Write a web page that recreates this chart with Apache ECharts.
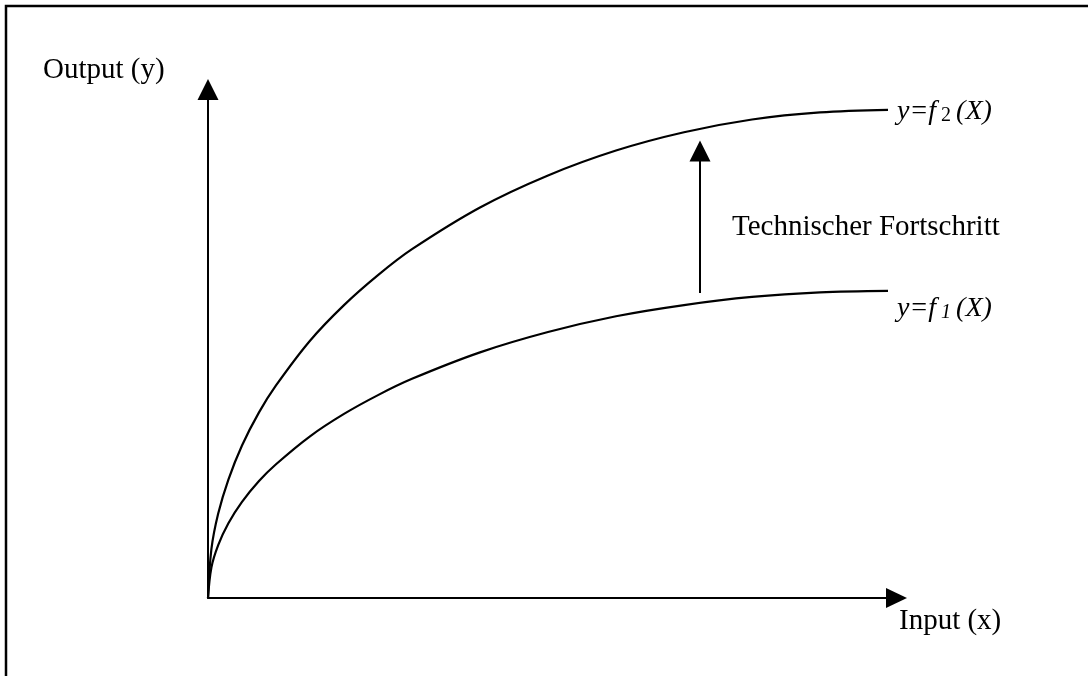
<!DOCTYPE html>
<html>
<head>
<meta charset="utf-8">
<script src="https://cdn.jsdelivr.net/npm/echarts@6/dist/echarts.min.js"></script>
<style>
  html, body { margin: 0; padding: 0; background: #fff; }
  #echBox { width: 1088px; height: 676px; }
</style>
</head>
<body>
<div id="echBox"></div>
<script>
// input values along the x axis
var inputX = [0, 0.05, 0.15, 0.3, 0.5, 0.75, 1, 1.5, 2, 2.5, 3, 4, 5, 6, 7, 8, 9, 10]
// output of the upper curve y=f2(X)
var outputF2 = [0, 0.96, 1.66, 2.33, 3.00, 3.65, 4.18, 5.06, 5.76, 6.35, 6.86, 7.68, 8.31, 8.80, 9.16, 9.41, 9.55, 9.6]
// output of the lower curve y=f1(X)
var outputF1 = [0, 0.60, 1.04, 1.47, 1.89, 2.30, 2.63, 3.18, 3.62, 3.99, 4.31, 4.83, 5.23, 5.54, 5.76, 5.92, 6.01, 6.04]
// the shift arrow: x position, from y, to y
var shiftX = 7.235
var shiftFrom = 6.0
var shiftTo = 8.79

var serif = "'Liberation Serif', 'Times New Roman', serif"

function pairs (xs, ys) {
  return xs.map(function (x, i) { return [x, ys[i]] })
}

var myChart = echarts.init(document.getElementById('echBox'))

var option = {
  backgroundColor: '#fff',
  animation: false,
  grid: {
    left: 208,
    right: 191.5,
    top: 89.5,
    bottom: 78
  },
  xAxis: {
    type: 'value',
    min: 0,
    max: 10.125,
    axisLine: {
      show: true,
      symbol: ['none', 'triangle'],
      symbolSize: [20, 21],
      lineStyle: { color: '#000', width: 2 }
    },
    axisTick: { show: false },
    axisLabel: { show: false },
    splitLine: { show: false }
  },
  yAxis: {
    type: 'value',
    min: 0,
    max: 10,
    axisLine: {
      show: true,
      symbol: ['none', 'triangle'],
      symbolSize: [21, 21],
      lineStyle: { color: '#000', width: 2 }
    },
    axisTick: { show: false },
    axisLabel: { show: false },
    splitLine: { show: false }
  },
  series: [
    {
      name: 'f2',
      type: 'line',
      data: pairs(inputX, outputF2),
      showSymbol: false,
      smooth: 0.35,
      silent: true,
      lineStyle: { color: '#000', width: 2.2 }
    },
    {
      name: 'f1',
      type: 'line',
      data: pairs(inputX, outputF1),
      showSymbol: false,
      smooth: 0.35,
      silent: true,
      lineStyle: { color: '#000', width: 2.2 },
      markLine: {
        silent: true,
        symbol: ['none', 'triangle'],
        symbolSize: 21,
        label: { show: false },
        lineStyle: { color: '#000', width: 2, type: 'solid' },
        data: [
          [{ coord: [shiftX, shiftFrom] }, { coord: [shiftX, shiftTo] }]
        ]
      }
    }
  ],
  graphic: [
    {
      type: 'rect',
      shape: { x: 6, y: 6, width: 1200, height: 800 },
      style: { fill: 'none', stroke: '#000', lineWidth: 2.5 },
      silent: true
    },
    {
      type: 'text',
      x: 43,
      y: 70,
      style: { text: 'Output (y)', font: '29px ' + serif, fill: '#000', textVerticalAlign: 'middle' }
    },
    {
      type: 'text',
      x: 899,
      y: 621,
      style: { text: 'Input (x)', font: '29px ' + serif, fill: '#000', textVerticalAlign: 'middle' }
    },
    {
      type: 'text',
      x: 732,
      y: 227,
      style: { text: 'Technischer Fortschritt', font: '29px ' + serif, fill: '#000', textVerticalAlign: 'middle' }
    },
    {
      type: 'text',
      x: 897,
      y: 112,
      style: {
        text: '{i|y=f}{s| 2 }{i|(X)}',
        textVerticalAlign: 'middle',
        rich: {
          i: { fontFamily: serif, fontSize: 28, fontStyle: 'italic', fill: '#000' },
          s: { fontFamily: serif, fontSize: 20, fill: '#000', padding: [8, 0, 0, 0] }
        }
      }
    },
    {
      type: 'text',
      x: 897,
      y: 309,
      style: {
        text: '{i|y=f}{s| 1 }{i|(X)}',
        textVerticalAlign: 'middle',
        rich: {
          i: { fontFamily: serif, fontSize: 28, fontStyle: 'italic', fill: '#000' },
          s: { fontFamily: serif, fontSize: 20, fontStyle: 'italic', fill: '#000', padding: [8, 0, 0, 0] }
        }
      }
    }
  ]
}

myChart.setOption(option)
</script>
</body>
</html>
